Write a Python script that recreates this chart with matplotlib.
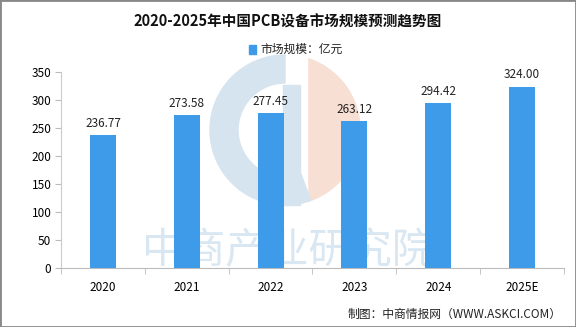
import matplotlib.pyplot as plt
from matplotlib.patches import Wedge, Rectangle

plt.rcParams['font.family'] = ['Noto Sans CJK SC', 'DejaVu Sans']

# data
years = ['2020', '2021', '2022', '2023', '2024', '2025E']
values = [236.77, 273.58, 277.45, 263.12, 294.42, 324.00]
yticks = [0, 50, 100, 150, 200, 250, 300, 350]

bar_color = '#3D9BEA'

fig = plt.figure(figsize=(5.76, 3.27), dpi=100)

# background layer in pixel coordinates for the watermark
bg = fig.add_axes([0, 0, 1, 1], zorder=0)
bg.set_xlim(0, 576)
bg.set_ylim(327, 0)
bg.axis('off')
logo_blue = '#d6e4ef'
logo_red = '#f8dfd3'
bg.add_patch(Wedge((285, 130), 75, -90, 90, color=logo_red))
bg.add_patch(Rectangle((283, 50), 24, 162, color='white'))
bg.add_patch(Wedge((285, 130), 75, 90, 270, width=28, color=logo_blue))
bg.add_patch(Wedge((285, 130), 75, 70, 90, width=28, color=logo_blue))
bg.add_patch(Rectangle((283, 85), 17, 120, color=logo_blue))
bg.text(288, 252, '中商产业研究院', ha='center', va='center', fontsize=30,
        color='#d8e7f2')

ax = fig.add_axes([0.106, 0.180, 0.873, 0.600], zorder=1)
ax.patch.set_alpha(0)

x = list(range(len(years)))
ax.bar(x, values, width=0.31, color=bar_color, zorder=3)
for xi, v in zip(x, values):
    ax.text(xi, v + 9, '%.2f' % v, ha='center', va='bottom', fontsize=8.5, color='#222222', zorder=4)

ax.set_xlim(-0.5, len(years) - 0.5)
ax.set_ylim(0, 350)
ax.set_yticks(yticks)
ax.set_xticks(x)
ax.set_xticklabels(years, fontsize=8.5)
ax.tick_params(axis='y', labelsize=8.5, length=4, color='#bbbbbb', pad=3)
ax.tick_params(axis='x', length=0, pad=9)
# tick marks between categories
ax.set_xticks([i - 0.5 for i in range(len(years) + 1)], minor=True)
ax.tick_params(axis='x', which='minor', length=4, color='#bbbbbb')

for s in ['top', 'right']:
    ax.spines[s].set_visible(False)
ax.spines['left'].set_color('#cccccc')
ax.spines['bottom'].set_color('#bbbbbb')

fig.text(0.5, 0.935, '2020-2025年中国PCB设备市场规模预测趋势图', ha='center', va='center',
         fontsize=10.5, fontweight='bold', color='#111111')
fig.patches.append(Rectangle((0.432, 0.835), 0.013, 0.026, transform=fig.transFigure,
                             color=bar_color))
fig.text(0.452, 0.848, '市场规模：亿元', ha='left', va='center', fontsize=8.5, color='#222222')
fig.text(0.975, 0.04, '制图：中商情报网（WWW.ASKCI.COM）', ha='right', va='center',
         fontsize=8.5, color='#222222')

# gray frame
fig.patches.append(Rectangle((0, 0), 1, 1, transform=fig.transFigure, fill=False,
                             edgecolor='#888888', linewidth=2))

fig.savefig('out.png', dpi=100)
